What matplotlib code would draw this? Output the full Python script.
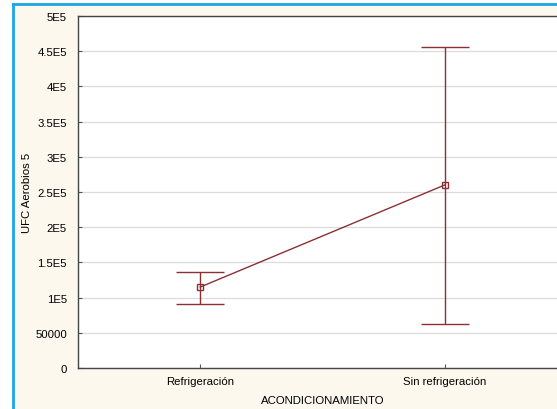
import numpy as np
import matplotlib.pyplot as plt
from matplotlib.patches import Rectangle
from matplotlib.lines import Line2D

categories = ["Refrigeración", "Sin refrigeración"]
means = [1.15e5, 2.60e5]
upper = [1.365e5, 4.56e5]
lower = [0.91e5, 0.625e5]

yticks = [0, 50000, 1e5, 1.5e5, 2e5, 2.5e5, 3e5, 3.5e5, 4e5, 4.5e5, 5e5]
ytick_labels = ["0", "50000", "1E5", "1.5E5", "2E5", "2.5E5", "3E5", "3.5E5", "4E5", "4.5E5", "5E5"]

plt.rcParams["font.family"] = ["Liberation Sans", "DejaVu Sans"]
plt.rcParams["font.size"] = 8.2

line_color = "#8b3035"
bg = "#fdf8ee"

fig = plt.figure(figsize=(5.57, 4.10), dpi=100)
fig.patch.set_facecolor("white")

# cream panel with blue frame on top and left
fig.patches.append(Rectangle((12/557, 0), 1, 1 - 4/410, transform=fig.transFigure,
                             facecolor=bg, edgecolor="none", zorder=-2))
fig.lines.append(Line2D([12.5/557, 1], [1 - 4.5/410, 1 - 4.5/410], transform=fig.transFigure,
                        color="#1aa7e8", lw=2))
fig.lines.append(Line2D([12.5/557, 12.5/557], [0, 1 - 4.5/410], transform=fig.transFigure,
                        color="#1aa7e8", lw=2))

ax = fig.add_axes([78/557, 41/410, 489/557, 352/410])
ax.set_facecolor("white")

x = np.arange(len(categories))
means = np.array(means)
yerr = [means - np.array(lower), np.array(upper) - means]

ax.plot(x, means, color=line_color, lw=1)
ax.errorbar(x, means, yerr=yerr, fmt="none", ecolor=line_color, elinewidth=1,
            capsize=17, capthick=1)
ax.plot(x, means, "s", ms=4.5, mfc="none", mec=line_color, mew=1)

ax.set_xlim(-0.5, 1.5)
ax.set_ylim(0, 5e5)
ax.set_xticks(x)
ax.set_xticklabels(categories)
ax.set_yticks(yticks)
ax.set_yticklabels(ytick_labels)
ax.tick_params(direction="in", length=3, color="#555555", pad=8)
ax.tick_params(axis="x", pad=6)

ax.grid(axis="y", color="#dcdcdc", lw=0.9)
ax.set_axisbelow(True)
for s in ax.spines.values():
    s.set_color("#444444")
    s.set_linewidth(1)

ax.set_xlabel("ACONDICIONAMIENTO", labelpad=6)
ax.set_ylabel("UFC Aerobios 5")
ax.yaxis.set_label_coords(-46/489, 0.5)

plt.savefig("out.png", dpi=100)
